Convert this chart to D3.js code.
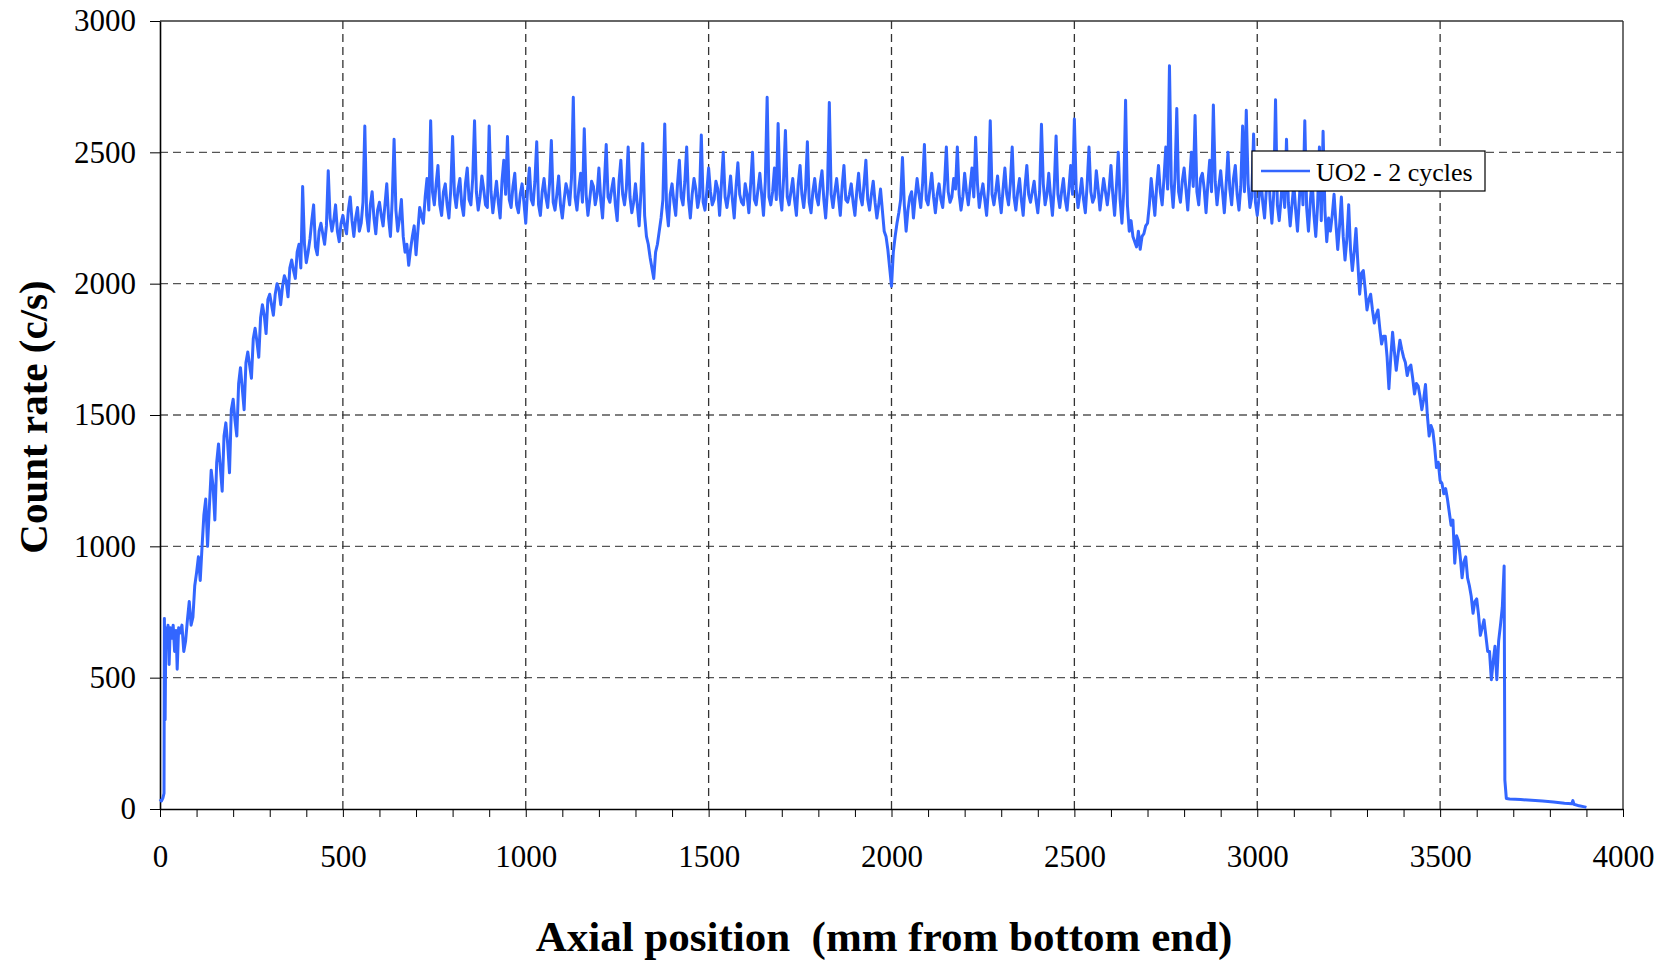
<!DOCTYPE html>
<html>
<head>
<meta charset="utf-8">
<script src="https://cdn.jsdelivr.net/npm/d3@7"></script>
<style>
    html, body { margin: 0; padding: 0; background: #fff; }
    svg { display: block; font-family: "Liberation Serif", "Times New Roman", serif; }
    .axis text { font-size: 31px; fill: #000; font-family: "Liberation Serif", "Times New Roman", serif; }
    .axis path, .axis line { stroke: #000; }
</style>
</head>
<body>
<svg id="chart" width="1670" height="961"></svg>
<script>
// gamma scan of a fuel rod, UO2 - 2 cycles
const SERIES_LABEL = 'UO2 - 2 cycles';
const X_TITLE = 'Axial position  (mm from bottom end)';
const Y_TITLE = 'Count rate (c/s)';

const yTickValues = [0, 500, 1000, 1500, 2000, 2500, 3000];
const xTickLabels = [0, 500, 1000, 1500, 2000, 2500, 3000, 3500, 4000];

// bottom end plug / first pellets
const bottomEndMm  = [0, 4, 8, 11, 12, 14, 16, 19, 22, 25, 28, 32, 36, 40, 44, 47, 51, 55];
const bottomEndCps = [38, 30, 42, 60, 725, 340, 690, 640, 700, 550, 690, 650, 700, 600, 680, 532, 690, 670];

// ramp up
const rampMm = [
    60, 70, 80, 90,
    100, 110, 120, 130, 140, 150, 160, 170, 180, 190,
    200, 210, 220, 230, 240, 250, 260, 270, 280, 290,
    300, 310, 320, 330, 340, 350, 360, 370, 380, 390,
    400, 410, 420, 430, 440, 450, 460, 470, 480, 490,
    500, 510, 520, 530, 540, 550, 560, 570, 580, 590,
    600, 610, 620, 630, 640, 650, 660, 670, 680, 690,
    700, 710, 720, 730, 740, 750, 760, 770, 780, 790
];
const rampCps = [
    700, 640, 790, 730,
    900, 870, 1120, 1000, 1290, 1100, 1390, 1210, 1470, 1280,
    1560, 1420, 1680, 1520, 1740, 1640, 1830, 1720, 1920, 1810,
    1960, 1880, 2000, 1920, 2030, 1950, 2090, 2020, 2150, 2370,
    2080, 2170, 2300, 2110, 2230, 2150, 2430, 2200, 2300, 2160,
    2260, 2190, 2330, 2180, 2290, 2230, 2600, 2200, 2350, 2190,
    2310, 2220, 2380, 2180, 2550, 2200, 2320, 2120, 2070, 2180,
    2110, 2290, 2230, 2400, 2620, 2300, 2450, 2260, 2380, 2250
];
const rampMidMm = [
    65, 75, 85, 95,
    105, 115, 125, 135, 145, 155, 165, 175, 185, 195,
    205, 215, 225, 235, 245, 255, 265, 275, 285, 295,
    305, 315, 325, 335, 345, 355, 365, 375, 385, 395,
    405, 415, 425, 435, 445, 455, 465, 475, 485, 495,
    505, 515, 525, 535, 545, 555, 565, 575, 585, 595,
    605, 615, 625, 635, 645, 655, 665, 675, 685, 695,
    705, 715, 725, 735, 745, 755, 765, 775, 785, 795
];
const rampMidCps = [
    600, 720, 700, 850,
    960, 1000, 1180, 1150, 1230, 1320, 1300, 1420, 1390, 1520,
    1480, 1620, 1600, 1700, 1690, 1790, 1780, 1870, 1880, 1940,
    1920, 1960, 1980, 1990, 2010, 2060, 2050, 2120, 2060, 2150,
    2120, 2240, 2140, 2200, 2190, 2220, 2250, 2240, 2200, 2230,
    2220, 2280, 2240, 2250, 2200, 2310, 2260, 2300, 2250, 2280,
    2260, 2300, 2250, 2320, 2280, 2250, 2180, 2150, 2130, 2220,
    2200, 2260, 2330, 2280, 2350, 2380, 2300, 2350, 2300, 2360
];

// plateau
const plateauMm = [
    800, 810, 820, 830, 840, 850, 860, 870, 880, 890,
    900, 910, 920, 930, 940, 950, 960, 970, 980, 990,
    1000, 1010, 1020, 1030, 1040, 1050, 1060, 1070, 1080, 1090,
    1100, 1110, 1120, 1130, 1140, 1150, 1160, 1170, 1180, 1190,
    1200, 1210, 1220, 1230, 1240, 1250, 1260, 1270, 1280, 1290,
    1300, 1310, 1320, 1330, 1340, 1350, 1360, 1370, 1380, 1390,
    1400, 1410, 1420, 1430, 1440, 1450, 1460, 1470, 1480, 1490,
    1500, 1510, 1520, 1530, 1540, 1550, 1560, 1570, 1580, 1590,
    1600, 1610, 1620, 1630, 1640, 1650, 1660, 1670, 1680, 1690,
    1700, 1710, 1720, 1730, 1740, 1750, 1760, 1770, 1780, 1790,
    1800, 1810, 1820, 1830, 1840, 1850, 1860, 1870, 1880, 1890,
    1900, 1910, 1920, 1930, 1940, 1950, 1960, 1970, 1980, 1990,
    2000, 2010, 2020, 2030, 2040, 2050, 2060, 2070, 2080, 2090,
    2100, 2110, 2120, 2130, 2140, 2150, 2160, 2170, 2180, 2190,
    2200, 2210, 2220, 2230, 2240, 2250, 2260, 2270, 2280, 2290,
    2300, 2310, 2320, 2330, 2340, 2350, 2360, 2370, 2380, 2390,
    2400, 2410, 2420, 2430, 2440, 2450, 2460, 2470, 2480, 2490,
    2500, 2510, 2520, 2530, 2540, 2550, 2560, 2570, 2580, 2590,
    2600, 2610, 2620, 2630, 2640, 2650, 2660, 2670, 2680, 2690,
    2700, 2710, 2720, 2730, 2740, 2750, 2760, 2770, 2780, 2790,
    2800, 2810, 2820, 2830, 2840, 2850, 2860, 2870, 2880, 2890,
    2900, 2910, 2920, 2930, 2940, 2950, 2960, 2970, 2980, 2990,
    3000, 3010, 3020, 3030, 3040, 3050, 3060, 3070, 3080, 3090,
    3100, 3110, 3120, 3130, 3140, 3150, 3160, 3170, 3180, 3190
];
const plateauCps = [
    2560, 2290, 2400, 2260, 2440, 2300, 2620, 2280, 2410, 2300,
    2600, 2270, 2390, 2250, 2470, 2560, 2290, 2420, 2270, 2380,
    2230, 2440, 2300, 2540, 2260, 2400, 2290, 2545, 2280, 2410,
    2250, 2380, 2300, 2710, 2280, 2420, 2590, 2260, 2390, 2300,
    2440, 2250, 2530, 2310, 2400, 2240, 2470, 2300, 2520, 2270,
    2380, 2220, 2534, 2180, 2100, 2020, 2150, 2250, 2608, 2220,
    2380, 2260, 2470, 2300, 2520, 2250, 2400, 2290, 2566, 2280,
    2440, 2300, 2390, 2260, 2500, 2290, 2410, 2250, 2460, 2310,
    2380, 2270, 2500, 2300, 2420, 2260, 2710, 2300, 2440, 2610,
    2280, 2583, 2300, 2400, 2260, 2450, 2290, 2540, 2270, 2400,
    2300, 2430, 2250, 2690, 2290, 2400, 2260, 2450, 2310, 2380,
    2260, 2420, 2300, 2470, 2280, 2390, 2250, 2360, 2200, 2130,
    1990, 2180, 2270, 2480, 2200, 2330, 2250, 2400, 2290, 2530,
    2300, 2420, 2270, 2380, 2290, 2520, 2310, 2400, 2520, 2280,
    2420, 2300, 2440, 2557, 2290, 2380, 2260, 2620, 2300, 2410,
    2270, 2440, 2300, 2520, 2280, 2400, 2260, 2450, 2310, 2390,
    2270, 2607, 2300, 2420, 2260, 2562, 2290, 2400, 2280, 2450,
    2627, 2290, 2400, 2270, 2520, 2310, 2430, 2280, 2400, 2300,
    2450, 2260, 2500, 2230, 2698, 2200, 2180, 2140, 2131, 2190,
    2230, 2400, 2260, 2450, 2300, 2520, 2830, 2290, 2667, 2310,
    2440, 2280, 2500, 2640, 2300, 2420, 2270, 2470, 2680, 2300,
    2430, 2270, 2500, 2300, 2450, 2280, 2600, 2660, 2290, 2570,
    2260, 2400, 2250, 2480, 2230, 2700, 2240, 2420, 2550, 2220,
    2380, 2200, 2450, 2620, 2200, 2400, 2180, 2520, 2580, 2160
];
const plateauMidMm = [
    805, 815, 825, 835, 845, 855, 865, 875, 885, 895,
    905, 915, 925, 935, 945, 955, 965, 975, 985, 995,
    1005, 1015, 1025, 1035, 1045, 1055, 1065, 1075, 1085, 1095,
    1105, 1115, 1125, 1135, 1145, 1155, 1165, 1175, 1185, 1195,
    1205, 1215, 1225, 1235, 1245, 1255, 1265, 1275, 1285, 1295,
    1305, 1315, 1325, 1335, 1345, 1355, 1365, 1375, 1385, 1395,
    1405, 1415, 1425, 1435, 1445, 1455, 1465, 1475, 1485, 1495,
    1505, 1515, 1525, 1535, 1545, 1555, 1565, 1575, 1585, 1595,
    1605, 1615, 1625, 1635, 1645, 1655, 1665, 1675, 1685, 1695,
    1705, 1715, 1725, 1735, 1745, 1755, 1765, 1775, 1785, 1795,
    1805, 1815, 1825, 1835, 1845, 1855, 1865, 1875, 1885, 1895,
    1905, 1915, 1925, 1935, 1945, 1955, 1965, 1975, 1985, 1995,
    2005, 2015, 2025, 2035, 2045, 2055, 2065, 2075, 2085, 2095,
    2105, 2115, 2125, 2135, 2145, 2155, 2165, 2175, 2185, 2195,
    2205, 2215, 2225, 2235, 2245, 2255, 2265, 2275, 2285, 2295,
    2305, 2315, 2325, 2335, 2345, 2355, 2365, 2375, 2385, 2395,
    2405, 2415, 2425, 2435, 2445, 2455, 2465, 2475, 2485, 2495,
    2505, 2515, 2525, 2535, 2545, 2555, 2565, 2575, 2585, 2595,
    2605, 2615, 2625, 2635, 2645, 2655, 2665, 2675, 2685, 2695,
    2705, 2715, 2725, 2735, 2745, 2755, 2765, 2775, 2785, 2795,
    2805, 2815, 2825, 2835, 2845, 2855, 2865, 2875, 2885, 2895,
    2905, 2915, 2925, 2935, 2945, 2955, 2965, 2975, 2985, 2995,
    3005, 3015, 3025, 3035, 3045, 3055, 3065, 3075, 3085, 3095,
    3105, 3115, 3125, 3135, 3145, 3155, 3165, 3175, 3185, 3195
];
const plateauMidCps = [
    2340, 2360, 2300, 2380, 2320, 2400, 2350, 2330, 2360, 2290,
    2350, 2330, 2310, 2390, 2340, 2320, 2370, 2300, 2340, 2310,
    2360, 2320, 2390, 2300, 2350, 2330, 2380, 2310, 2340, 2300,
    2320, 2350, 2400, 2330, 2360, 2310, 2340, 2320, 2370, 2340,
    2320, 2380, 2330, 2360, 2300, 2390, 2340, 2360, 2330, 2310,
    2300, 2350, 2260, 2150, 2060, 2120, 2200, 2320, 2290, 2340,
    2310, 2380, 2330, 2390, 2320, 2340, 2360, 2330, 2310, 2350,
    2350, 2320, 2360, 2380, 2330, 2340, 2320, 2370, 2340, 2300,
    2340, 2380, 2320, 2360, 2340, 2390, 2330, 2350, 2320, 2340,
    2400, 2330, 2350, 2320, 2380, 2340, 2360, 2310, 2350, 2330,
    2380, 2320, 2360, 2340, 2350, 2330, 2370, 2320, 2340, 2310,
    2350, 2330, 2380, 2320, 2340, 2310, 2300, 2280, 2180, 2060,
    2120, 2230, 2320, 2300, 2280, 2350, 2330, 2340, 2380, 2320,
    2360, 2330, 2340, 2320, 2380, 2350, 2330, 2360, 2340, 2330,
    2350, 2370, 2330, 2380, 2340, 2320, 2360, 2340, 2350, 2330,
    2360, 2340, 2380, 2330, 2350, 2320, 2370, 2340, 2350, 2320,
    2350, 2380, 2340, 2330, 2370, 2340, 2350, 2320, 2360, 2340,
    2360, 2340, 2320, 2380, 2350, 2330, 2360, 2340, 2350, 2360,
    2340, 2370, 2320, 2350, 2300, 2240, 2160, 2200, 2180, 2220,
    2300, 2330, 2370, 2350, 2400, 2360, 2380, 2400, 2350, 2390,
    2360, 2390, 2370, 2350, 2400, 2360, 2380, 2350, 2390, 2370,
    2350, 2380, 2360, 2400, 2340, 2370, 2350, 2380, 2330, 2310,
    2330, 2310, 2360, 2320, 2340, 2300, 2320, 2290, 2310, 2300,
    2280, 2320, 2300, 2290, 2310, 2260, 2300, 2240, 2280, 2250
];

// top roll-off and end of fuel stack
const rolloffMm = [
    3200, 3210, 3220, 3230, 3240, 3250, 3260, 3270, 3280, 3290,
    3300, 3310, 3320, 3330, 3340, 3350, 3360, 3370, 3380, 3390,
    3400, 3410, 3420, 3430, 3440, 3450, 3460, 3470, 3480, 3490,
    3500, 3510, 3520, 3530, 3540, 3550, 3560, 3570, 3580, 3590,
    3600, 3610, 3620, 3630, 3640, 3650, 3655, 3660, 3665, 3670, 3675, 3677, 3681
];
const rolloffCps = [
    2200, 2340, 2130, 2330, 2090, 2300, 2050, 2210, 1960, 2050,
    1900, 1960, 1850, 1900, 1770, 1800, 1600, 1815, 1670, 1785,
    1720, 1650, 1690, 1580, 1610, 1520, 1616, 1420, 1440, 1300,
    1250, 1200, 1180, 1080, 936, 1020, 880, 960, 850, 745,
    800, 661, 720, 600, 492, 620, 492, 640, 700, 768, 925, 110, 40
];
const rolloffMidMm = [
    3205, 3215, 3225, 3235, 3245, 3255, 3265, 3275, 3285, 3295,
    3305, 3315, 3325, 3335, 3345, 3355, 3365, 3375, 3385, 3395,
    3405, 3415, 3425, 3435, 3445, 3455, 3465, 3475, 3485, 3495,
    3505, 3515, 3525, 3535, 3545, 3555, 3565, 3575, 3585, 3595,
    3605, 3615, 3625, 3635, 3645
];
const rolloffMidCps = [
    2260, 2230, 2220, 2180, 2170, 2130, 2120, 2080, 2040, 1980,
    1940, 1900, 1880, 1830, 1800, 1720, 1720, 1740, 1730, 1750,
    1700, 1680, 1640, 1620, 1570, 1560, 1500, 1460, 1380, 1320,
    1240, 1220, 1130, 1100, 1040, 960, 940, 880, 810, 790,
    740, 690, 660, 600, 560
];

// plenum
const tailMm  = [3690, 3720, 3750, 3780, 3810, 3840, 3860, 3863, 3866, 3880, 3895, 3900];
const tailCps = [38, 36, 33, 30, 27, 22, 20, 32, 18, 12, 8, 6];

function pairs(mm, cps) {
    return mm.map((m, i) => ({ mm: m, cps: cps[i] }));
}

const series = [].concat(
    pairs(bottomEndMm, bottomEndCps),
    pairs(rampMm, rampCps),
    pairs(rampMidMm, rampMidCps),
    pairs(plateauMm, plateauCps),
    pairs(plateauMidMm, plateauMidCps),
    pairs(rolloffMm, rolloffCps),
    pairs(rolloffMidMm, rolloffMidCps),
    pairs(tailMm, tailCps)
).sort((a, b) => a.mm - b.mm);

const LINE_COLOR = '#3366ff';
const margin = { left: 160, right: 47, top: 21, bottom: 152 };
const W = 1670, H = 961;

const svg = d3.select('#chart');

const x = d3.scaleLinear().domain([0, 4000]).range([margin.left, W - margin.right]);
const y = d3.scaleLinear().domain([0, 3000]).range([H - margin.bottom, margin.top]);

// grid
const grid = svg.append('g');
grid.selectAll('line.h')
    .data(yTickValues.filter(v => v > 0 && v < 3000))
    .join('line')
        .attr('class', 'h')
        .attr('x1', x(0)).attr('x2', x(4000))
        .attr('y1', d => y(d)).attr('y2', d => y(d))
        .attr('stroke', '#555').attr('stroke-width', 1.4)
        .attr('stroke-dasharray', '8,5');
grid.selectAll('line.v')
    .data(xTickLabels.filter(v => v > 0 && v < 4000))
    .join('line')
        .attr('class', 'v')
        .attr('y1', y(0)).attr('y2', y(3000))
        .attr('x1', d => x(d)).attr('x2', d => x(d))
        .attr('stroke', '#333').attr('stroke-width', 1.3)
        .attr('stroke-dasharray', '8,5');

// box top / right
svg.append('line')
    .attr('x1', x(0)).attr('x2', x(4000)).attr('y1', y(3000)).attr('y2', y(3000))
    .attr('stroke', '#333').attr('stroke-width', 1.4);
svg.append('line')
    .attr('x1', x(4000)).attr('x2', x(4000)).attr('y1', y(0)).attr('y2', y(3000))
    .attr('stroke', '#333').attr('stroke-width', 1.4);

// axes
const yAxis = d3.axisLeft(y)
    .tickValues(yTickValues)
    .tickSize(10)
    .tickSizeOuter(0)
    .tickPadding(14)
    .tickFormat(d3.format('d'));
svg.append('g')
    .attr('class', 'axis')
    .attr('transform', `translate(${margin.left},0)`)
    .call(yAxis)
    .call(g => g.attr('font-family', null).attr('font-size', null))
    .call(g => g.select('.domain').attr('stroke-width', 1.6));

const xAxis = d3.axisBottom(x)
    .tickValues(d3.range(0, 4001, 100))
    .tickSize(8)
    .tickSizeOuter(0)
    .tickPadding(28)
    .tickFormat(d => xTickLabels.includes(d) ? d : '');
svg.append('g')
    .attr('class', 'axis')
    .attr('transform', `translate(0,${H - margin.bottom})`)
    .call(xAxis)
    .call(g => g.attr('font-family', null).attr('font-size', null))
    .call(g => g.select('.domain').attr('stroke-width', 1.6));

// data line
const line = d3.line()
    .x(d => x(d.mm))
    .y(d => y(d.cps));

svg.append('path')
    .datum(series)
    .attr('d', line)
    .attr('fill', 'none')
    .attr('stroke', LINE_COLOR)
    .attr('stroke-width', 3)
    .attr('stroke-linejoin', 'round');

// legend
const legend = svg.append('g').attr('transform', 'translate(1252,151)');
legend.append('rect')
    .attr('width', 233).attr('height', 40)
    .attr('fill', '#fff').attr('stroke', '#000').attr('stroke-width', 1.2);
legend.append('line')
    .attr('x1', 9).attr('x2', 58).attr('y1', 20).attr('y2', 20)
    .attr('stroke', LINE_COLOR).attr('stroke-width', 2.5);
legend.append('text')
    .attr('x', 64).attr('y', 30)
    .attr('font-size', 26)
    .text(SERIES_LABEL);

// titles
svg.append('text')
    .attr('x', 884).attr('y', 951)
    .attr('text-anchor', 'middle')
    .attr('font-size', 43).attr('font-weight', 'bold')
    .style('white-space', 'pre')
    .text(X_TITLE);

svg.append('text')
    .attr('transform', 'translate(47,417) rotate(-90)')
    .attr('text-anchor', 'middle')
    .attr('font-size', 41).attr('font-weight', 'bold')
    .text(Y_TITLE);
</script>
</body>
</html>
